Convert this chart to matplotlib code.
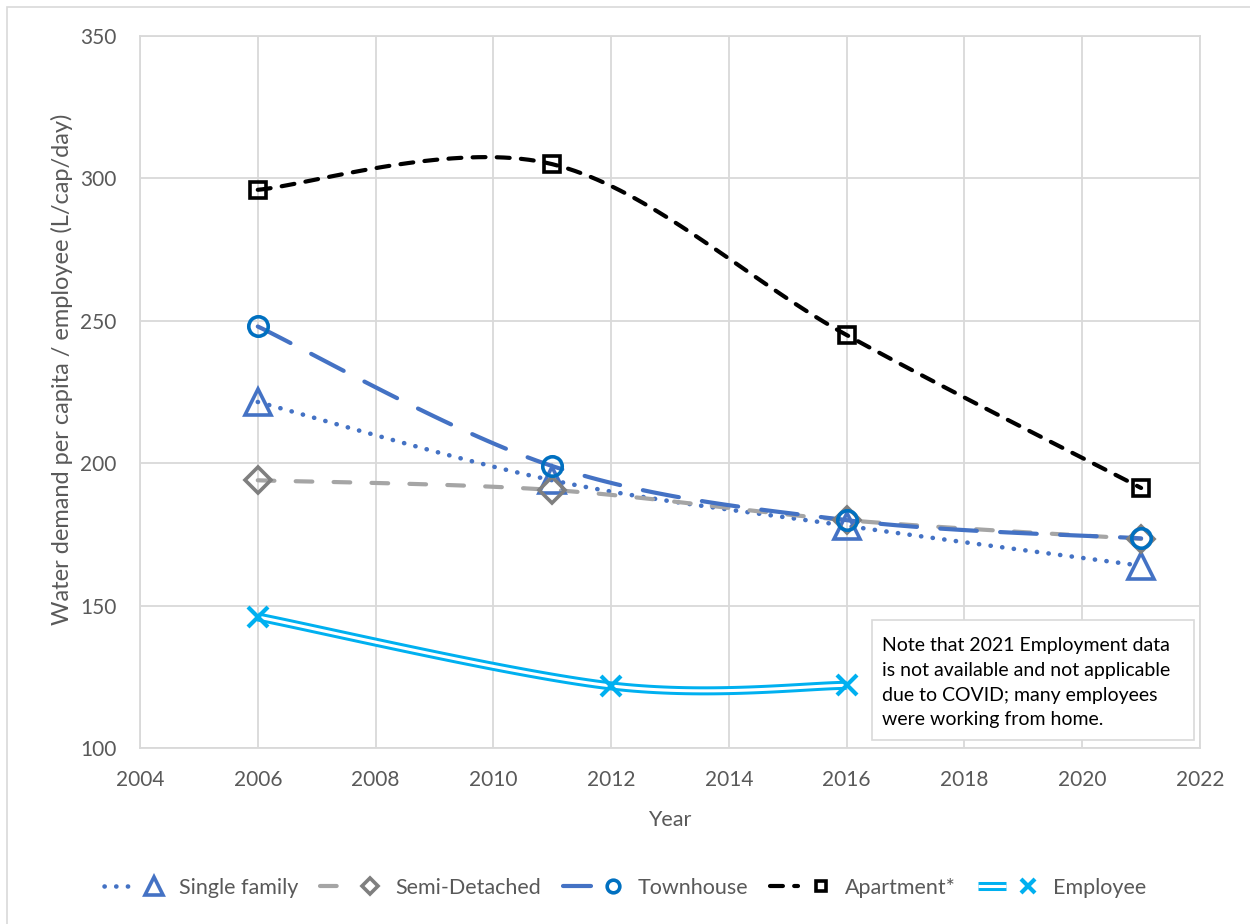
import numpy as np
import matplotlib.pyplot as plt
import matplotlib.patheffects as pe
from matplotlib.patches import Rectangle
from matplotlib.legend_handler import HandlerTuple

plt.rcParams['font.family'] = ['Lato', 'DejaVu Sans']

# water demand (L/cap/day) by dwelling type
years = [2006, 2011, 2016, 2021]
single_family = [221.5, 194, 178, 164]
semi_detached = [194, 190.6, 180, 173.4]
townhouse = [248, 199, 180, 173.6]
apartment = [296, 305, 245, 191.3]

# employees (L/employee/day)
emp_years = [2006, 2012, 2016]
employee = [146, 121.8, 122]

note = ('Note that 2021 Employment data\nis not available and not applicable\n'
        'due to COVID; many employees\nwere working from home.')

TXT = '#595959'
GRID = '#D9D9D9'


def smooth(xs, ys, n=40):
    # catmull-rom through the points, drawn as cubic beziers
    p = np.column_stack([xs, ys]).astype(float)
    p = np.vstack([p[0], p, p[-1]])
    out = []
    for i in range(1, len(p) - 2):
        p0, p1, p2, p3 = p[i - 1], p[i], p[i + 1], p[i + 2]
        b1 = p1 + (p2 - p0) / 6
        b2 = p2 - (p3 - p1) / 6
        t = np.linspace(0, 1, n)[:, None]
        seg = ((1 - t) ** 3) * p1 + 3 * ((1 - t) ** 2) * t * b1 + 3 * (1 - t) * t ** 2 * b2 + t ** 3 * p2
        out.append(seg if i == 1 else seg[1:])
    out = np.vstack(out)
    return out[:, 0], out[:, 1]


fig = plt.figure(figsize=(12.5, 9.24), dpi=100)
ax = fig.add_axes([140 / 1250, 1 - 748 / 924, 1060 / 1250, 712 / 924])

# chart border
fig.patches.append(Rectangle((7 / 1250, -0.05), 1.2, 0.05 + 1 - 7 / 924, transform=fig.transFigure,
                             fill=False, edgecolor=GRID, lw=1.2, zorder=0))

LW = 3
MEW = 2.6

sx, sy = smooth(years, single_family)
l1, = ax.plot(sx, sy, color='#4472C4', lw=3.3, linestyle=(0, (0.05, 2.5)), dash_capstyle='round', zorder=3)
m1, = ax.plot(years, single_family, linestyle='None', marker='^', ms=19, mfc='none',
              mec='#4472C4', mew=MEW, zorder=4)

sx, sy = smooth(years, semi_detached)
l2, = ax.plot(sx, sy, color='#A5A5A5', lw=LW, linestyle=(0, (4, 5.1)), dash_capstyle='round', zorder=3)
m2, = ax.plot(years, semi_detached, linestyle='None', marker='D', ms=13, mfc='none',
              mec='#7F7F7F', mew=MEW, zorder=4)

sx, sy = smooth(years, townhouse)
l3, = ax.plot(sx, sy, color='#4472C4', lw=LW, linestyle=(0, (8.8, 5.6)), dash_capstyle='round', zorder=3)
m3, = ax.plot(years, townhouse, linestyle='None', marker='o', ms=14, mfc='none',
              mec='#0070C0', mew=MEW, zorder=4)

sx, sy = smooth(years, apartment)
l4, = ax.plot(sx, sy, color='black', lw=LW, linestyle=(0, (3.1, 2.7)), dash_capstyle='round', zorder=3)
m4, = ax.plot(years, apartment, linestyle='None', marker='s', ms=11, mfc='none',
              mec='black', mew=MEW, zorder=4)

sx, sy = smooth(emp_years, employee)
l5, = ax.plot(sx, sy, color='white', lw=2.2, zorder=3, solid_capstyle='butt',
              path_effects=[pe.Stroke(linewidth=6.5, foreground='#00B0F0'), pe.Normal()])
m5, = ax.plot(emp_years, employee, linestyle='None', marker='x', ms=15,
              mec='#00B0F0', mew=3, zorder=4)

ax.set_xlim(2004, 2022)
ax.set_ylim(100, 350)
ax.set_xticks(np.arange(2004, 2023, 2))
ax.set_yticks(np.arange(100, 351, 50))
ax.grid(True, color=GRID, lw=1.3)
ax.set_axisbelow(True)
for s in ax.spines.values():
    s.set_color(GRID)
    s.set_linewidth(1.3)
ax.tick_params(length=0, labelsize=15, labelcolor=TXT)
ax.tick_params(axis='x', pad=16)
ax.tick_params(axis='y', pad=17)
ax.set_xlabel('Year', fontsize=15.5, color=TXT, labelpad=14)
ax.set_ylabel('Water demand per capita / employee (L/cap/day)', fontsize=17, color=TXT)
ax.yaxis.set_label_coords(-0.063, 0.532)

# note box
ax.add_patch(Rectangle((0.6906, 0.0112), 0.3037, 0.1686, transform=ax.transAxes,
                       facecolor='white', edgecolor=GRID, lw=1.2, zorder=5))
ax.text(0.7, 0.156, note, transform=ax.transAxes, fontsize=14, color='black',
        va='top', ha='left', linespacing=1.56, zorder=6)

fig.legend([(l1, m1), (l2, m2), (l3, m3), (l4, m4), (l5, m5)],
           ['Single family', 'Semi-Detached', 'Townhouse', 'Apartment*', 'Employee'],
           handler_map={tuple: HandlerTuple(ndivide=None)}, markerscale=0.65,
           loc='center', bbox_to_anchor=(0.5, 1 - 888 / 924), ncol=5, frameon=False,
           fontsize=15.5, labelcolor=TXT, handlelength=3.0, columnspacing=1.0, handletextpad=0.5)

fig.savefig('out.png', dpi=100)
